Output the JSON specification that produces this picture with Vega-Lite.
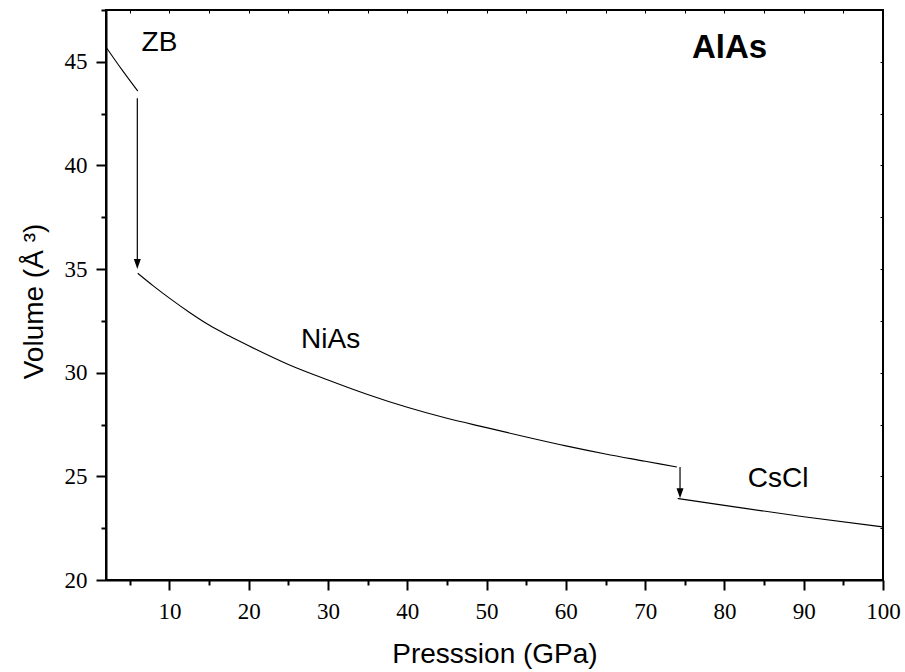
{
  "$schema": "https://vega.github.io/schema/vega-lite/v6.json",
  "width": 777,
  "height": 570,
  "autosize": {"type": "none"},
  "padding": {"left": 106, "top": 10, "right": 22, "bottom": 92},
  "background": "white",
  "config": {
    "view": {"stroke": "black", "strokeWidth": 2},
    "axis": {
      "grid": false,
      "domainColor": "black",
      "domainWidth": 2,
      "tickColor": "black",
      "tickWidth": 2,
      "labelFont": "Liberation Serif",
      "labelFontSize": 23,
      "labelColor": "black",
      "titleFont": "Liberation Sans",
      "titleFontSize": 28,
      "titleFontWeight": "normal",
      "titleColor": "black"
    }
  },
  "resolve": {"axis": {"x": "independent", "y": "independent"}},
  "datasets": {
    "curves": [
      {"phase": "ZB", "p": 2, "v": 45.71},
      {"phase": "ZB", "p": 4, "v": 44.62},
      {"phase": "ZB", "p": 6, "v": 43.59},
      {"phase": "NiAs", "p": 6, "v": 34.8},
      {"phase": "NiAs", "p": 8, "v": 34.18},
      {"phase": "NiAs", "p": 10, "v": 33.6},
      {"phase": "NiAs", "p": 12.5, "v": 32.92},
      {"phase": "NiAs", "p": 15, "v": 32.3},
      {"phase": "NiAs", "p": 17.5, "v": 31.78},
      {"phase": "NiAs", "p": 20, "v": 31.3},
      {"phase": "NiAs", "p": 25, "v": 30.4},
      {"phase": "NiAs", "p": 30, "v": 29.65},
      {"phase": "NiAs", "p": 35, "v": 28.95},
      {"phase": "NiAs", "p": 40, "v": 28.33},
      {"phase": "NiAs", "p": 45, "v": 27.8},
      {"phase": "NiAs", "p": 50, "v": 27.35},
      {"phase": "NiAs", "p": 55, "v": 26.9},
      {"phase": "NiAs", "p": 60, "v": 26.47},
      {"phase": "NiAs", "p": 65, "v": 26.08},
      {"phase": "NiAs", "p": 70, "v": 25.73},
      {"phase": "NiAs", "p": 74, "v": 25.45},
      {"phase": "CsCl", "p": 74.1, "v": 23.93},
      {"phase": "CsCl", "p": 80, "v": 23.6},
      {"phase": "CsCl", "p": 90, "v": 23.05},
      {"phase": "CsCl", "p": 100, "v": 22.56}
    ],
    "arrows": [
      {"p": 5.95, "from": 43.24, "to": 35.3, "tip": 35.0},
      {"p": 74.4, "from": 25.45, "to": 24.2, "tip": 23.95}
    ],
    "phaseLabels": [
      {"text": "ZB", "p": 8.74, "v": 45.89},
      {"text": "NiAs", "p": 30.33, "v": 31.58},
      {"text": "CsCl", "p": 86.78, "v": 24.89}
    ],
    "compound": [
      {"text": "AlAs", "p": 80.65, "v": 45.67}
    ]
  },
  "layer": [
    {
      "data": {"name": "curves"},
      "mark": {"type": "line", "color": "black", "strokeWidth": 1.1, "interpolate": "monotone"},
      "encoding": {
        "x": {
          "field": "p",
          "type": "quantitative",
          "scale": {"domain": [2, 100], "nice": false, "zero": false},
          "axis": {
            "orient": "bottom",
            "title": "Presssion (GPa)",
            "titleY": 82,
            "titleBaseline": "alphabetic",
            "values": [5, 10, 15, 20, 25, 30, 35, 40, 45, 50, 55, 60, 65, 70, 75, 80, 85, 90, 95, 100],
            "labelExpr": "datum.value % 10 === 0 ? datum.label : ''",
            "tickSize": {"condition": {"test": "datum.value % 10 === 0", "value": 10}, "value": 5},
            "labelPadding": 10,
            "labelBaseline": "top",
            "labelFlush": false,
            "labelOverlap": false
          }
        },
        "y": {
          "field": "v",
          "type": "quantitative",
          "scale": {"domain": [20, 47.5], "nice": false, "zero": false},
          "axis": {
            "orient": "left",
            "title": "Volume (Å ³)",
            "titleX": -64,
            "titleY": 291,
            "titleAngle": -90,
            "titleAlign": "center",
            "titleBaseline": "alphabetic",
            "values": [20, 22.5, 25, 27.5, 30, 32.5, 35, 37.5, 40, 42.5, 45, 47.5],
            "labelExpr": "datum.value % 5 === 0 ? datum.label : ''",
            "tickSize": {"condition": {"test": "datum.value % 5 === 0", "value": 10}, "value": 5},
            "labelPadding": 9,
            "labelFlush": false,
            "labelOverlap": false
          }
        },
        "detail": {"field": "phase"},
        "order": {"field": "p", "type": "quantitative"}
      }
    },
    {
      "data": {"name": "arrows"},
      "mark": {"type": "rule", "color": "black", "strokeWidth": 1.2},
      "encoding": {
        "x": {"field": "p", "type": "quantitative", "axis": null},
        "y": {"field": "from", "type": "quantitative", "axis": null},
        "y2": {"field": "to"}
      }
    },
    {
      "data": {"name": "arrows"},
      "mark": {
        "type": "point",
        "shape": "M-0.7,-2L0.7,-2L0,0Z",
        "size": 100,
        "filled": true,
        "color": "black",
        "opacity": 1,
        "strokeWidth": 0
      },
      "encoding": {
        "x": {"field": "p", "type": "quantitative", "axis": null},
        "y": {"field": "tip", "type": "quantitative", "axis": null}
      }
    },
    {
      "data": {"name": "phaseLabels"},
      "mark": {
        "type": "text",
        "font": "Liberation Sans",
        "fontSize": 28,
        "color": "black",
        "align": "center",
        "baseline": "middle"
      },
      "encoding": {
        "x": {"field": "p", "type": "quantitative", "axis": null},
        "y": {"field": "v", "type": "quantitative", "axis": null},
        "text": {"field": "text"}
      }
    },
    {
      "data": {"name": "compound"},
      "mark": {
        "type": "text",
        "font": "Liberation Sans",
        "fontSize": 33,
        "fontWeight": "bold",
        "color": "black",
        "align": "center",
        "baseline": "middle"
      },
      "encoding": {
        "x": {
          "field": "p",
          "type": "quantitative",
          "axis": {
            "orient": "top",
            "title": null,
            "labels": false,
            "domain": false,
            "values": [5, 10, 15, 20, 25, 30, 35, 40, 45, 50, 55, 60, 65, 70, 75, 80, 85, 90, 95],
            "tickSize": -3,
            "tickWidth": 1
          }
        },
        "y": {
          "field": "v",
          "type": "quantitative",
          "axis": {
            "orient": "right",
            "title": null,
            "labels": false,
            "domain": false,
            "values": [22.5, 25, 27.5, 30, 32.5, 35, 37.5, 40, 42.5, 45],
            "tickSize": -3,
            "tickWidth": 1
          }
        },
        "text": {"field": "text"}
      }
    }
  ]
}
